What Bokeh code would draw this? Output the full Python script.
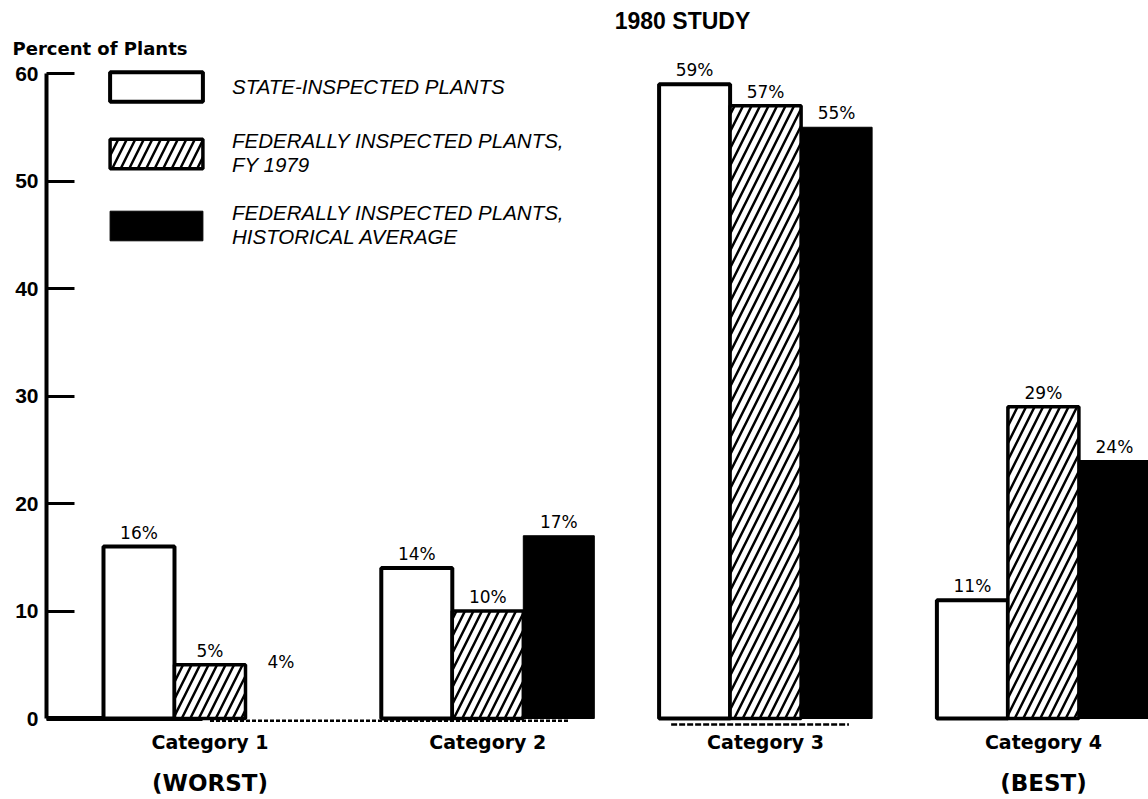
from bokeh.plotting import figure
from bokeh.models import (Range1d, FixedTicker, Legend, LegendItem, Label,
                          ColumnDataSource, CDSView, BooleanFilter)
from bokeh.transform import dodge
from bokeh.core.properties import value
from bokeh.embed import file_html
from bokeh.resources import INLINE

# ---------------- data ----------------
categories = ["Category 1", "Category 2", "Category 3", "Category 4"]
category_notes = ["(WORST)", "", "", "(BEST)"]
state_inspected = [16, 14, 59, 11]
federal_fy1979 = [5, 10, 57, 29]
federal_historical = [4, 17, 55, 24]
series_names = [
    "STATE-INSPECTED PLANTS",
    "FEDERALLY INSPECTED PLANTS,\nFY 1979",
    "FEDERALLY INSPECTED PLANTS,\nHISTORICAL AVERAGE",
]
y_ticks = [0, 10, 20, 30, 40, 50, 60]
title_text = "1980 STUDY"
y_label = "Percent of Plants"
# In the scanned original the Category 1 historical-average bar has faded away;
# only its "4%" label is still printed.
historical_bar_printed = [False, True, True, True]

# ---------------- layout ----------------
W, H = 1148, 799
PX_PER_GROUP = 277.8          # pixels between category groups
G0 = 209.5                    # pixel position of the first group centre
bar_w = 0.2556                # bar width in group units
PX_PER_UNIT = 10.75           # pixels per percentage point
ZERO_PX = 718                 # pixel row of the 0 % baseline

X0 = -G0 / PX_PER_GROUP
x_range = Range1d(X0, X0 + W / PX_PER_GROUP)
Y0 = -(H - ZERO_PX) / PX_PER_UNIT
y_range = Range1d(Y0, Y0 + H / PX_PER_UNIT)
AXIS_X = (46 - G0) / PX_PER_GROUP

src = ColumnDataSource(dict(
    x=list(range(len(categories))),
    cat=categories,
    note=category_notes,
    state=state_inspected,
    fy=federal_fy1979,
    hist=federal_historical,
    state_lbl=[f"{v}%" for v in state_inspected],
    fy_lbl=[f"{v}%" for v in federal_fy1979],
    hist_lbl=[f"{v}%" for v in federal_historical],
))

p = figure(width=W, height=H, x_range=x_range, y_range=y_range,
           output_backend="svg", toolbar_location=None, x_axis_type=None,
           min_border_left=0, min_border_right=0, min_border_top=0,
           min_border_bottom=0, outline_line_color=None,
           background_fill_color="white", border_fill_color="white")
p.grid.visible = False

ax = p.yaxis[0]
ax.fixed_location = AXIS_X
ax.ticker = FixedTicker(ticks=y_ticks)
ax.bounds = (0, 60)
ax.axis_line_width = 4
ax.axis_line_color = "black"
ax.major_tick_in = 28
ax.major_tick_out = 0
ax.major_tick_line_width = 3
ax.major_tick_line_color = "black"
ax.minor_tick_line_color = None
ax.major_label_standoff = 8
ax.major_label_text_font = "Liberation Sans"
ax.major_label_text_font_size = "21px"
ax.major_label_text_font_style = "bold"
ax.major_label_text_color = "black"

# baseline pieces (as printed in the scan)
p.segment(x0=[AXIS_X], y0=[0], x1=[-0.027], y1=[0], line_width=5, line_color="black")
p.segment(x0=[1 - 1.0], y0=[-0.2], x1=[1 + 0.29], y1=[-0.2],
          line_width=2.5, line_color="black", line_dash="4 2")
p.segment(x0=[2 - 0.34], y0=[-0.55], x1=[2 + 0.30], y1=[-0.55],
          line_width=2.5, line_color="black", line_dash="6 2")

r1 = p.vbar(x=dodge("x", -bar_w), top="state", bottom=0, width=bar_w, source=src,
            fill_color="white", line_color="black", line_width=4)
r2 = p.vbar(x="x", top="fy", bottom=0, width=bar_w, source=src,
            fill_color="white", line_color="black", line_width=3.5,
            hatch_pattern="/", hatch_color="black", hatch_weight=2.5, hatch_scale=17)
view = CDSView(filter=BooleanFilter(historical_bar_printed))
r3 = p.vbar(x=dodge("x", bar_w), top="hist", bottom=0, width=bar_w, source=src,
            view=view, fill_color="black", line_color="black", line_width=1)

lbl_kw = dict(source=src, text_align="center", text_baseline="alphabetic",
              y_offset=-14, text_font=value("DejaVu Sans"),
              text_font_size="17px", text_color="black")
p.text(x=dodge("x", -bar_w), y="state", text="state_lbl", **lbl_kw)
p.text(x="x", y="fy", text="fy_lbl", **lbl_kw)
p.text(x=dodge("x", bar_w), y="hist", text="hist_lbl", **lbl_kw)

p.text(x="x", y=0, text="cat", source=src, text_align="center",
       text_baseline="alphabetic", y_offset=23, text_font=value("DejaVu Sans"),
       text_font_style="bold", text_font_size="19px", text_color="black")
p.text(x="x", y=0, text="note", source=src, text_align="center",
       text_baseline="alphabetic", y_offset=64, text_font=value("DejaVu Sans"),
       text_font_style="bold", text_font_size="23px", text_color="black")

p.add_layout(Label(x=(682 - G0) / PX_PER_GROUP, y=(ZERO_PX - 20) / PX_PER_UNIT,
                   text=title_text, text_align="center",
                   text_baseline="alphabetic", text_font="Liberation Sans",
                   text_font_style="bold", text_font_size="23px", text_color="black"))
p.add_layout(Label(x=(12 - G0) / PX_PER_GROUP, y=(ZERO_PX - 48) / PX_PER_UNIT,
                   text=y_label, text_align="left",
                   text_baseline="alphabetic", text_font="DejaVu Sans",
                   text_font_style="bold", text_font_size="18px", text_color="black"))

legend = Legend(items=[LegendItem(label=series_names[0], renderers=[r1]),
                       LegendItem(label=series_names[1], renderers=[r2]),
                       LegendItem(label=series_names[2], renderers=[r3])],
                location=(98, 550), orientation="vertical",
                glyph_width=116, glyph_height=37, label_standoff=18, spacing=24,
                padding=0, margin=0, border_line_alpha=0, background_fill_alpha=0,
                label_text_font="Liberation Sans", label_text_font_style="italic",
                label_text_font_size="20.5px", label_text_line_height=0.9,
                label_text_color="black")
p.add_layout(legend)

open("out.html", "w").write(file_html(p, INLINE))
